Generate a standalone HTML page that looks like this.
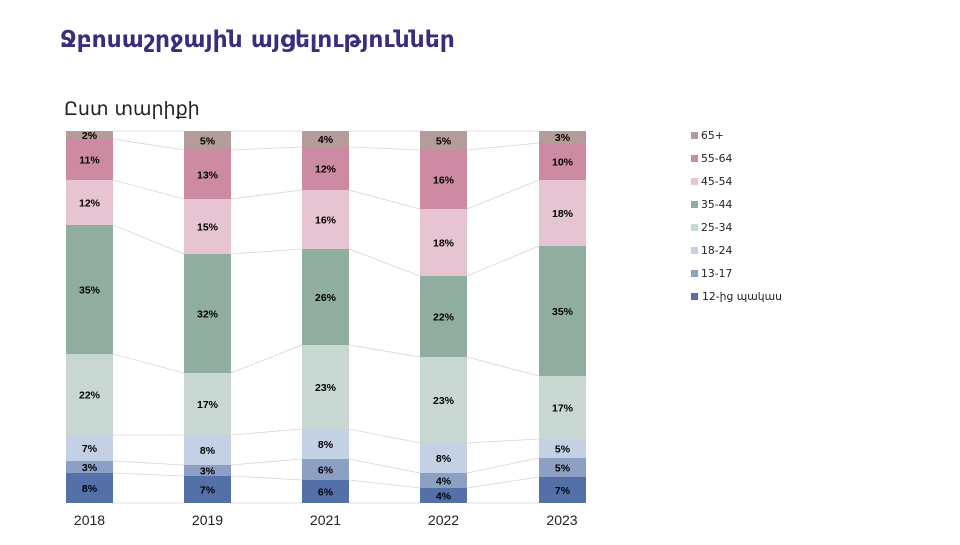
<!DOCTYPE html>
<html><head><meta charset="utf-8"><style>
body{margin:0;background:#fff;width:960px;height:540px;overflow:hidden;font-family:"Liberation Sans","DejaVu Sans",sans-serif}
</style></head><body>
<svg width="960" height="540" xmlns="http://www.w3.org/2000/svg">
<text x="60" y="47" font-family="DejaVu Sans, sans-serif" font-weight="bold" font-size="23.4" fill="#3b2d7d">Ջբոսաշրջային այցելություններ</text>
<text x="64" y="115" font-family="DejaVu Sans, sans-serif" font-size="19" fill="#222">Ըստ տարիքի</text>
<g id="chart"></g>
<g font-family="Liberation Sans, DejaVu Sans, sans-serif" font-size="14" fill="#222" text-anchor="middle">
<text x="89.5" y="525">2018</text><text x="207.5" y="525">2019</text><text x="325.5" y="525">2021</text><text x="443.5" y="525">2022</text><text x="562" y="525">2023</text>
</g>
<g font-family="DejaVu Sans, sans-serif" font-size="10.8" fill="#222">
<rect x="691" y="132" width="7" height="7" fill="#b59c9a"/><text x="701" y="139">65+</text>
<rect x="691" y="155" width="7" height="7" fill="#cc8ba3"/><text x="701" y="162">55-64</text>
<rect x="691" y="178" width="7" height="7" fill="#e6c4d1"/><text x="701" y="185">45-54</text>
<rect x="691" y="201" width="7" height="7" fill="#8fae9f"/><text x="701" y="208">35-44</text>
<rect x="691" y="224" width="7" height="7" fill="#c8d7d1"/><text x="701" y="231">25-34</text>
<rect x="691" y="247" width="7" height="7" fill="#c4d0e4"/><text x="701" y="254">18-24</text>
<rect x="691" y="270" width="7" height="7" fill="#8ca0c4"/><text x="701" y="277">13-17</text>
<rect x="691" y="293" width="7" height="7" fill="#5470a8"/><text x="702" y="300">12-ից պակաս</text>
</g>
</svg>
<script>
const xs=[66,184,302,420,539],w=47;
const b=[[131,139,180,225,354,435,461,473,503],[131,150,199,254,373,435,465,476,503],[131,147,190,249,345,429,459,480,503],[131,150,209,276,357,443,473,488,503],[131,143,180,246,376,439,458,477,503]];
const v=[[2,11,12,35,22,7,3,8],[5,13,15,32,17,8,3,7],[4,12,16,26,23,8,6,6],[5,16,18,22,23,8,4,4],[3,10,18,35,17,5,5,7]];
const c=["#b59c9a","#cc8ba3","#e6c4d1","#8fae9f","#c8d7d1","#c4d0e4","#8ca0c4","#5470a8"];
let s="";
for(let i=0;i<4;i++)for(let k=0;k<9;k++)s+=`<line x1="${xs[i]+w}" y1="${b[i][k]}" x2="${xs[i+1]}" y2="${b[i+1][k]}" stroke="#d6d6d6" stroke-width="0.8"/>`;
for(let i=0;i<5;i++)for(let k=0;k<8;k++){const y=b[i][k],h=b[i][k+1]-y;s+=`<rect x="${xs[i]}" y="${y}" width="${w}" height="${h}" fill="${c[k]}"/><text x="${xs[i]+w/2}" y="${y+h/2+4}" text-anchor="middle" font-family="Liberation Sans,sans-serif" font-weight="bold" font-size="10.5" fill="#000">${v[i][k]}%</text>`;}
document.getElementById("chart").innerHTML=s;
</script>
</body></html>
